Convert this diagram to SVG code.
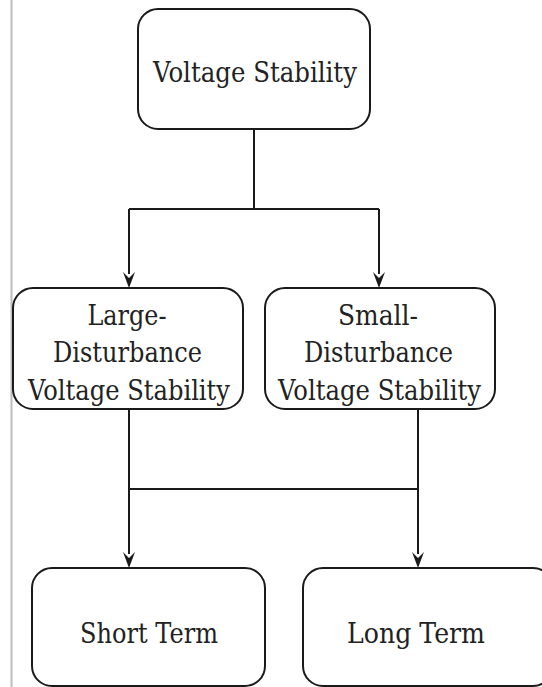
<svg xmlns="http://www.w3.org/2000/svg" width="542" height="687" viewBox="0 0 542 687">
<style>
.box{fill:#fff;stroke:#1a1a1a;stroke-width:2}
.lbl{font-family:'DejaVu Serif','Liberation Serif',serif;font-size:28px;fill:#222;text-anchor:middle}
.con{fill:none;stroke:#1a1a1a;stroke-width:2}
.ah{fill:#1a1a1a}
</style>
<rect x="0" y="0" width="542" height="687" fill="#fff"/>
<line x1="11.5" y1="0" x2="11.5" y2="687" stroke="#bdbdbd" stroke-width="2"/>
<g id="connectors">
<path class="con" d="M254,129 V209 M129,209 H379"/>
<path class="con" d="M129,209 V274"/>
<path class="con" d="M379,209 V274"/>
<path class="con" d="M129,409 V489 H418 M418,409 V489"/>
<path class="con" d="M129,489 V554"/>
<path class="con" d="M418,489 V554"/>
<path class="ah" d="M123,272 L129,278 L135,272 L129,288 Z"/>
<path class="ah" d="M373,272 L379,278 L385,272 L379,288 Z"/>
<path class="ah" d="M123,552 L129,558 L135,552 L129,568 Z"/>
<path class="ah" d="M412,552 L418,558 L424,552 L418,568 Z"/>
</g>
<g id="voltage-stability">
<rect class="box" x="138" y="9" width="232" height="120" rx="20"/>
<text class="lbl" x="255" y="82" textLength="204" lengthAdjust="spacingAndGlyphs">Voltage Stability</text>
</g>
<g id="large-disturbance">
<rect class="box" x="13" y="288" width="230" height="121" rx="20"/>
<text class="lbl" x="127" y="325" textLength="79" lengthAdjust="spacingAndGlyphs">Large-</text>
<text class="lbl" x="127.5" y="362" textLength="149" lengthAdjust="spacingAndGlyphs">Disturbance</text>
<text class="lbl" x="129" y="400" textLength="202" lengthAdjust="spacingAndGlyphs">Voltage Stability</text>
</g>
<g id="small-disturbance">
<rect class="box" x="265" y="288" width="230" height="121" rx="20"/>
<text class="lbl" x="378" y="325" textLength="80" lengthAdjust="spacingAndGlyphs">Small-</text>
<text class="lbl" x="378.5" y="362" textLength="149" lengthAdjust="spacingAndGlyphs">Disturbance</text>
<text class="lbl" x="379.5" y="400" textLength="203" lengthAdjust="spacingAndGlyphs">Voltage Stability</text>
</g>
<g id="short-term">
<rect class="box" x="32" y="568" width="233" height="118" rx="20"/>
<text class="lbl" x="149" y="643" textLength="138" lengthAdjust="spacingAndGlyphs">Short Term</text>
</g>
<g id="long-term">
<rect class="box" x="303" y="568" width="250" height="118" rx="20"/>
<text class="lbl" x="416" y="643" textLength="138" lengthAdjust="spacingAndGlyphs">Long Term</text>
</g>
</svg>
